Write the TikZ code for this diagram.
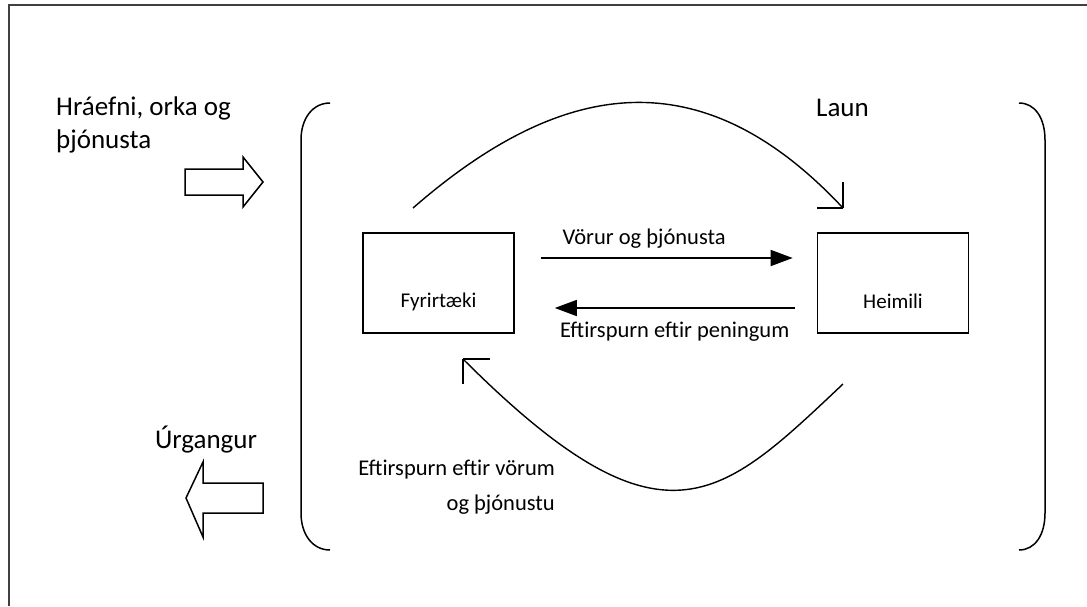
\documentclass[tikz,border=0pt]{standalone}
\usepackage{fontspec}
\setmainfont{Carlito}
\usetikzlibrary{calc, arrows.meta, positioning}
\definecolor{framegray}{HTML}{404040}

\begin{document}
\begin{tikzpicture}[x=1pt, y=1pt,
            big/.style={font=\fontsize{27}{32}\selectfont, inner sep=0pt},
            small/.style={font=\fontsize{22.5}{30}\selectfont, inner sep=0pt},
            boxtext/.style={font=\fontsize{21}{26}\selectfont, inner sep=0pt},
            box/.style={draw, line width=1.6pt, minimum width=151pt, minimum height=100pt, inner sep=0pt},
            flow/.style={line width=1.4pt},
            money/.style={line width=1.5pt, arrows=-{Triangle[length=22pt, width=16pt]}},
            hollow/.style={line width=1.5pt, line join=miter}
        ]

        \useasboundingbox (0,0) rectangle (1087,-606);
        \draw[framegray, line width=2pt] (9,-606) -- (9,-5) -- (1087,-5);

        % brackets round the circuit
        \draw[line width=1.5pt] (330,-103) .. controls (313,-103) and (301,-118) .. (301,-140)
            -- (301,-513) .. controls (301,-535) and (313,-550) .. (330,-550);
        \draw[line width=1.5pt] (1019,-103) .. controls (1035,-103) and (1045,-118) .. (1045,-140)
            -- (1045,-513) .. controls (1045,-535) and (1035,-550) .. (1019,-550);

        \node[box] (fyr) at (438.5,-283) {};
        \node[box] (heim) at (893,-283) {};
        \node[boxtext] (fyrtext) at ($(fyr.center)+(0,-19)$) {Fyrirtæki};
        \node[boxtext] (heimtext) at ($(heim.center)+(0,-18)$) {Heimili};

        \draw[money] ([yshift=25pt]fyr.east) ++(26,0) coordinate (vstart)
            -- ([yshift=25pt, xshift=-24pt]heim.west) node[small, pos=.41, above=9pt] (vorur) {Vörur og þjónusta};
        \draw[money] ([yshift=-25pt, xshift=-22pt]heim.west) coordinate (pstart)
            -- ([yshift=-25pt, xshift=40pt]fyr.east) node[small, pos=.5, below=13pt] (pen) {Eftirspurn eftir peningum};

        % wages on top, demand for goods below
        \coordinate (launstart) at (413,-208);
        \coordinate (launtip) at (843,-208);
        \draw[flow] (launstart) .. controls (560,-80) and (700,-55) .. (launtip);
        \draw[flow] (launtip) -- ++(-26,0) (launtip) -- ++(0,26);

        \coordinate (eftstart) at (843,-384);
        \coordinate (efttip) at (463,-359);
        \draw[flow] (eftstart) .. controls (720,-500) and (663,-559) .. (efttip);
        \draw[flow] (efttip) -- ++(27,0) (efttip) -- ++(0,-25);

        \node[big, anchor=west] (laun) at (816,-108) {Laun};
        \node[small, anchor=east] (eftv) at (555,-470) {Eftirspurn eftir vörum};
        \node[small, anchor=east] (eftog) at (555,-505) {og þjónustu};

        % what flows in and out
        \node[big, anchor=west] (hraefni) at (56,-108) {Hráefni, orka og};
        \node[big, anchor=west] (thjon) at (56,-141) {þjónusta};
        \draw[hollow] (185,-169) -- (243,-169) -- (243,-157) -- (263,-182)
            -- (243,-207) -- (243,-195) -- (185,-195) -- cycle;

        \node[big] (urg) at (206,-440) {Úrgangur};
        \draw[hollow] (263,-483) -- (203,-483) -- (203,-462) -- (186,-498)
            -- (203,-537) -- (203,-513) -- (263,-513) -- cycle;
\end{tikzpicture}
\end{document}
